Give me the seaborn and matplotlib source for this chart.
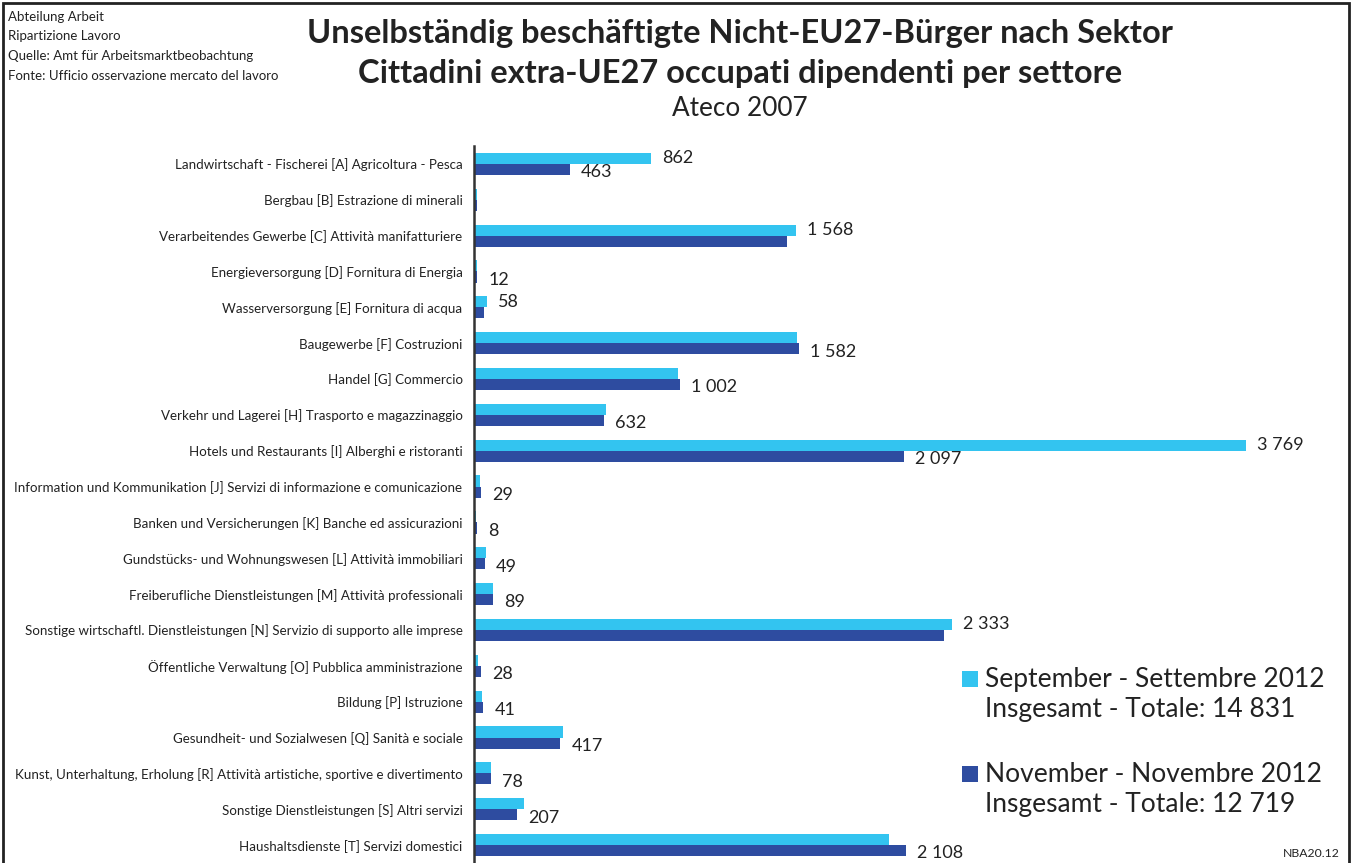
import matplotlib
matplotlib.use("Agg")
import matplotlib.pyplot as plt
import seaborn as sns
import pandas as pd
import numpy as np
from matplotlib.patches import Rectangle

categories = [
    "Landwirtschaft - Fischerei [A] Agricoltura - Pesca",
    "Bergbau [B] Estrazione di minerali",
    "Verarbeitendes Gewerbe [C] Attività manifatturiere",
    "Energieversorgung [D] Fornitura di Energia",
    "Wasserversorgung [E] Fornitura di acqua",
    "Baugewerbe [F] Costruzioni",
    "Handel [G] Commercio",
    "Verkehr und Lagerei [H] Trasporto e magazzinaggio",
    "Hotels und Restaurants [I] Alberghi e ristoranti",
    "Information und Kommunikation [J] Servizi di informazione e comunicazione",
    "Banken und Versicherungen [K] Banche ed assicurazioni",
    "Gundstücks- und Wohnungswesen [L] Attività immobiliari",
    "Freiberufliche Dienstleistungen [M] Attività professionali",
    "Sonstige wirtschaftl. Dienstleistungen [N] Servizio di supporto alle imprese",
    "Öffentliche Verwaltung [O] Pubblica amministrazione",
    "Bildung [P] Istruzione",
    "Gesundheit- und Sozialwesen [Q] Sanità e sociale",
    "Kunst, Unterhaltung, Erholung [R] Attività artistiche, sportive e divertimento",
    "Sonstige Dienstleistungen [S] Altri servizi",
    "Haushaltsdienste [T] Servizi domestici",
]
sept_values = [862, 10, 1568, 8, 58, 1572, 992, 640, 3769, 26, 5, 52, 90, 2333, 17, 36, 428, 80, 238, 2025]
nov_values = [463, 11, 1525, 12, 45, 1582, 1002, 632, 2097, 29, 8, 49, 89, 2290, 28, 41, 417, 78, 207, 2108]
sept_label_shown = [1, 0, 1, 0, 1, 0, 0, 0, 1, 0, 0, 0, 0, 1, 0, 0, 0, 0, 0, 0]
nov_label_shown = [1, 0, 0, 1, 0, 1, 1, 1, 1, 1, 1, 1, 1, 0, 1, 1, 1, 1, 1, 1]
series_names = ["September - Settembre 2012", "November - Novembre 2012"]
series_totals = ["Insgesamt - Totale: 14 831", "Insgesamt - Totale: 12 719"]
header_lines = ["Abteilung Arbeit", "Ripartizione Lavoro",
                "Quelle: Amt für Arbeitsmarktbeobachtung",
                "Fonte: Ufficio osservazione mercato del lavoro"]
title_lines = ["Unselbständig beschäftigte Nicht-EU27-Bürger nach Sektor",
               "Cittadini extra-UE27 occupati dipendenti per settore"]
subtitle = "Ateco 2007"
code = "NBA20.12"

colors = ["#33C4F0", "#2E4CA0"]

df = pd.DataFrame({
    "Sektor": categories * 2,
    "Wert": sept_values + nov_values,
    "Serie": [series_names[0]] * len(categories) + [series_names[1]] * len(categories),
})

sns.set_style("white")
plt.rcParams["font.family"] = ["Lato", "DejaVu Sans"]

W, H = 1354, 863
fig = plt.figure(figsize=(W / 100, H / 100), dpi=100)
ax = fig.add_axes([475 / W, 0, (1345 - 475) / W, 1 - 146 / H])

sns.barplot(data=df, y="Sektor", x="Wert", hue="Serie", orient="h",
            palette=colors, width=0.62, gap=0, saturation=1,
            legend=False, ax=ax, order=categories, zorder=3,
            linewidth=0, edgecolor="none")

ax.set_xlim(0, (1345 - 475) / 0.2046)
ax.set_ylim(len(categories) - 0.5, -0.5)
ax.set_xlabel("")
ax.set_ylabel("")
ax.set_xticks([])
for s in ["top", "right", "bottom"]:
    ax.spines[s].set_visible(False)
ax.spines["left"].set_color("#333333")
ax.spines["left"].set_linewidth(1.8)
ax.spines["left"].set_position(("outward", 1))
ax.spines["left"].set_zorder(5)
ax.tick_params(axis="y", which="major", length=0, pad=8, labelsize=9.6, labelcolor="#222222")
ax.set_yticks(np.arange(-0.5, len(categories), 2), minor=True)
ax.tick_params(axis="y", which="minor", length=5, width=1.5, color="#333333", direction="out")

def fmt(v):
    return f"{v:,}".replace(",", " ")

bw = 0.62 / 2
for i in range(len(categories)):
    if sept_label_shown[i]:
        ax.annotate(fmt(sept_values[i]), (sept_values[i], i - bw / 2),
                    xytext=(8, 0), textcoords="offset points",
                    va="center", ha="left", fontsize=13, color="#222222")
    if nov_label_shown[i]:
        ax.annotate(fmt(nov_values[i]), (nov_values[i], i + bw / 2),
                    xytext=(8, -2), textcoords="offset points",
                    va="center", ha="left", fontsize=13, color="#222222")

# header texts
for k, line in enumerate(header_lines):
    fig.text(8 / W, 1 - (17 + k * 19.5) / H, line, fontsize=9.5, va="center", ha="left", color="#222222")

fig.text(740 / W, 1 - 34 / H, title_lines[0], fontsize=23.5, fontweight="bold",
         ha="center", va="center", color="#222222")
fig.text(740 / W, 1 - 73 / H, title_lines[1], fontsize=23.5, fontweight="bold",
         ha="center", va="center", color="#222222")
fig.text(740 / W, 1 - 108 / H, subtitle, fontsize=18.8, ha="center", va="center", color="#222222")

# legend
leg_y = [679, 774]
for k in range(2):
    fig.patches.append(Rectangle((962 / W, 1 - (leg_y[k] + 8) / H), 16 / W, 16 / H,
                                 transform=fig.transFigure, facecolor=colors[k],
                                 edgecolor="none"))
    fig.text(985 / W, 1 - leg_y[k] / H, series_names[k], fontsize=19, ha="left",
             va="center", color="#222222")
    fig.text(985 / W, 1 - (leg_y[k] + 30) / H, series_totals[k], fontsize=19, ha="left",
             va="center", color="#222222")

fig.text(1340 / W, 1 - 853 / H, code, fontsize=8.8, ha="right", va="center", color="#222222")

# outer frame
fig.patches.append(Rectangle((3 / W, -0.01), (1349 - 3) / W, 1.01 - 3 / H,
                             transform=fig.transFigure, facecolor="none",
                             edgecolor="#222222", linewidth=2))

fig.savefig("out.png", dpi=100)
